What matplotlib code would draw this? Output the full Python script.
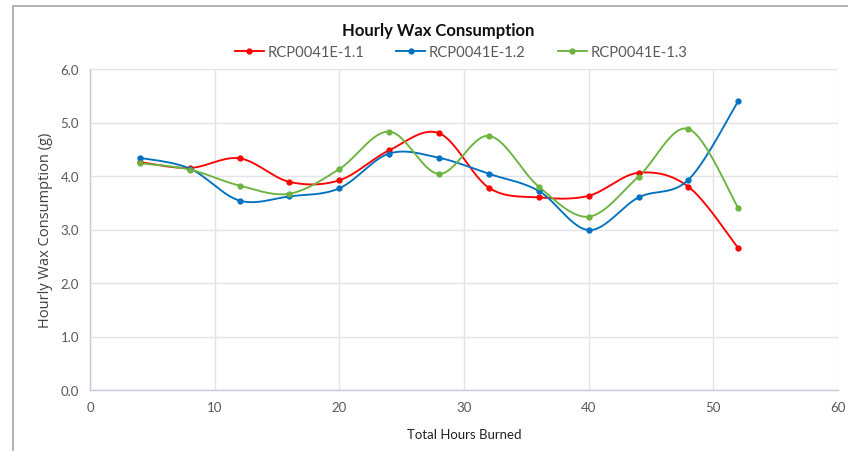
import numpy as np
import matplotlib
matplotlib.use("Agg")
import matplotlib.pyplot as plt
from matplotlib.lines import Line2D
from matplotlib.patches import Rectangle

hours = [4, 8, 12, 16, 20, 24, 28, 32, 36, 40, 44, 48, 52]
series_names = ["RCP0041E-1.1", "RCP0041E-1.2", "RCP0041E-1.3"]
s11 = [4.26, 4.15, 4.33, 3.89, 3.92, 4.48, 4.80, 3.78, 3.60, 3.63, 4.06, 3.80, 2.65]
s12 = [4.34, 4.14, 3.54, 3.62, 3.77, 4.42, 4.34, 4.04, 3.72, 2.99, 3.60, 3.93, 5.40]
s13 = [4.24, 4.12, 3.82, 3.67, 4.13, 4.83, 4.04, 4.75, 3.80, 3.24, 3.99, 4.88, 3.40]
colors = ["#FF0000", "#0070C0", "#6DB33F"]
xticks = [0, 10, 20, 30, 40, 50, 60]
yticks = [0.0, 1.0, 2.0, 3.0, 4.0, 5.0, 6.0]


def smooth(x, y, n=30):
    x = np.asarray(x, float)
    y = np.asarray(y, float)
    px = np.concatenate([[x[0]], x, [x[-1]]])
    py = np.concatenate([[y[0]], y, [y[-1]]])
    xs, ys = [], []
    t = np.linspace(0, 1, n)
    for i in range(1, len(px) - 2):
        p0 = np.array([px[i], py[i]])
        p3 = np.array([px[i + 1], py[i + 1]])
        c1 = p0 + (np.array([px[i + 1], py[i + 1]]) - np.array([px[i - 1], py[i - 1]])) / 6
        c2 = p3 - (np.array([px[i + 2], py[i + 2]]) - np.array([px[i], py[i]])) / 6
        b = ((1 - t) ** 3)[:, None] * p0 + (3 * (1 - t) ** 2 * t)[:, None] * c1 + \
            (3 * (1 - t) * t ** 2)[:, None] * c2 + (t ** 3)[:, None] * p3
        xs.append(b[:, 0])
        ys.append(b[:, 1])
    return np.concatenate(xs), np.concatenate(ys)


W, H = 848, 452
fig = plt.figure(figsize=(W / 100, H / 100), dpi=100)
fig.patch.set_facecolor("white")
fig.add_artist(Rectangle((13 / W, -0.1), 2.0, (H - 7) / H + 0.1, transform=fig.transFigure,
                         fill=False, edgecolor="#a6a6a6", linewidth=1.2))

ax = fig.add_axes([90 / W, 1 - 391 / H, (838 - 90) / W, (391 - 70) / H])
for vals, c in zip([s11, s12, s13], colors):
    sx, sy = smooth(hours, vals)
    ax.plot(sx, sy, color=c, linewidth=1.35, zorder=3)
    ax.plot(hours, vals, linestyle="none", marker="o", markersize=3.5, color=c, zorder=4)

ax.set_xlim(0, 60)
ax.set_ylim(0, 6)
ax.set_xticks(xticks)
ax.set_yticks(yticks)
ax.set_xticklabels([str(v) for v in xticks], fontfamily="Lato", fontsize=9.5, color="#595959")
ax.set_yticklabels([f"{v:.1f}" for v in yticks], fontfamily="Lato", fontsize=9.5, color="#595959")
ax.tick_params(length=0, pad=8)
ax.grid(True, color="#e3e3ea", linewidth=1)
ax.set_axisbelow(True)
for s in ["top", "right"]:
    ax.spines[s].set_visible(False)
for s in ["left", "bottom"]:
    ax.spines[s].set_color("#c5cbd8")
    ax.spines[s].set_linewidth(1)

ax.set_xlabel("Total Hours Burned", fontfamily="Lato", fontsize=9.5, color="#222222", labelpad=11)
ax.set_ylabel("Hourly Wax Consumption (g)", fontfamily="Open Sans", fontsize=10.5, color="#404040", labelpad=5)

fig.text(438 / W, 1 - 31 / H, "Hourly Wax Consumption", ha="center", va="center",
         fontfamily="Lato", fontweight="bold", fontsize=12, color="#111111")

handles = [Line2D([0], [0], color=c, linewidth=1.35, marker="o", markersize=3.5) for c in colors]
leg = fig.legend(handles, series_names, loc="center", bbox_to_anchor=(461 / W, 1 - 53 / H),
                 ncol=3, frameon=False, handlelength=1.95, handletextpad=0.25, columnspacing=2.2,
                 borderpad=0, prop={"family": "Lato", "size": 10.6})
for t in leg.get_texts():
    t.set_color("#595959")

fig.savefig("out.png", dpi=100)
